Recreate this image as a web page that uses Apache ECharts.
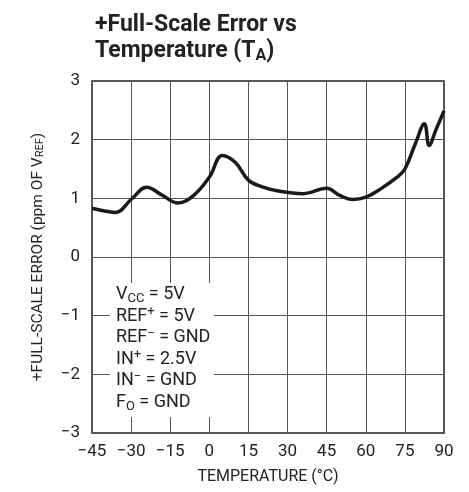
<!DOCTYPE html>
<html>
<head>
<meta charset="utf-8">
<script src="https://cdn.jsdelivr.net/npm/echarts@6/dist/echarts.min.js"></script>
<style>
  html, body { margin: 0; padding: 0; background: #fff; }
  #chart { width: 469px; height: 492px; }
</style>
</head>
<body>
<div id="chart"></div>
<script>
// temperature (°C) and full-scale error (ppm of VREF)
const temps = [-45, -42, -36, -30, -24, -18, -12, -6, 0, 5, 10, 15, 20, 27, 36, 45, 50, 55, 60, 66, 72, 75, 79, 82.5, 84.3, 87, 90]
const errors = [0.83, 0.8, 0.76, 0.98, 1.19, 1.05, 0.92, 1.05, 1.36, 1.73, 1.61, 1.31, 1.2, 1.12, 1.08, 1.17, 1.05, 0.98, 1.02, 1.17, 1.36, 1.5, 1.93, 2.27, 1.9, 2.18, 2.49]

const xTicks = [-45, -30, -15, 0, 15, 30, 45, 60, 75, 90]
const yTicks = [-3, -2, -1, 0, 1, 2, 3]

const conditions = [
  'V{sub|CC} = 5V',
  'REF{sup|+} = 5V',
  'REF{sup|−} = GND',
  'IN{sup|+} = 2.5V',
  'IN{sup|−} = GND',
  'F{sub|O} = GND'
]

const font = "'Roboto', sans-serif"
const minus = v => String(v).replace('-', '−')

const chart = echarts.init(document.getElementById('chart'))

chart.setOption({
  animation: false,
  grid: {
    left: 92,
    right: 25,
    top: 81,
    bottom: 59,
    show: true,
    borderColor: '#222',
    borderWidth: 1.5
  },
  title: {
    text: '+Full-Scale Error vs\nTemperature (T{sub|A})',
    left: 90,
    top: 7,
    textStyle: {
      fontFamily: font,
      fontWeight: 'bold',
      fontSize: 23,
      lineHeight: 26,
      color: '#222',
      rich: {
        sub: { fontFamily: font, fontWeight: 'bold', fontSize: 16, verticalAlign: 'bottom', lineHeight: 18, color: '#222' }
      }
    }
  },
  xAxis: {
    type: 'value',
    min: xTicks[0],
    max: xTicks[xTicks.length - 1],
    interval: 15,
    name: 'TEMPERATURE (°C)',
    nameLocation: 'middle',
    nameGap: 36,
    nameTextStyle: { fontFamily: font, fontSize: 16, color: '#222' },
    axisLine: { show: false },
    axisTick: { show: false },
    axisLabel: { fontFamily: font, fontSize: 17, color: '#222', margin: 10, formatter: minus },
    splitLine: { lineStyle: { color: '#555', width: 1 } }
  },
  yAxis: {
    type: 'value',
    min: yTicks[0],
    max: yTicks[yTicks.length - 1],
    interval: 1,
    name: '+FULL-SCALE ERROR (ppm OF V{sub|REF})',
    nameLocation: 'middle',
    nameGap: 46,
    nameTextStyle: {
      fontFamily: font,
      fontSize: 15.5,
      color: '#222',
      rich: {
        sub: { fontFamily: font, fontSize: 11, verticalAlign: 'bottom', lineHeight: 15, color: '#222' }
      }
    },
    axisLine: { show: false },
    axisTick: { show: false },
    axisLabel: { fontFamily: font, fontSize: 17, color: '#222', margin: 12, formatter: minus },
    splitLine: { lineStyle: { color: '#555', width: 1 } }
  },
  graphic: [
    {
      type: 'rect',
      left: 110,
      top: 283,
      shape: { width: 104, height: 134 },
      style: { fill: '#fff' },
      z: 10
    },
    {
      type: 'text',
      left: 116,
      top: 284,
      z: 11,
      style: {
        text: conditions.join('\n'),
        fontFamily: font,
        fontSize: 18,
        lineHeight: 21.5,
        fill: '#222',
        rich: {
          sub: { fontFamily: font, fontSize: 13, verticalAlign: 'bottom', lineHeight: 13, fill: '#222' },
          sup: { fontFamily: font, fontSize: 13, verticalAlign: 'top', lineHeight: 13, fill: '#222' }
        }
      }
    }
  ],
  series: [{
    type: 'line',
    data: temps.map((t, i) => [t, errors[i]]),
    smooth: 0.4,
    symbol: 'none',
    lineStyle: { color: '#1a1a1a', width: 3.5 }
  }]
})
</script>
</body>
</html>
